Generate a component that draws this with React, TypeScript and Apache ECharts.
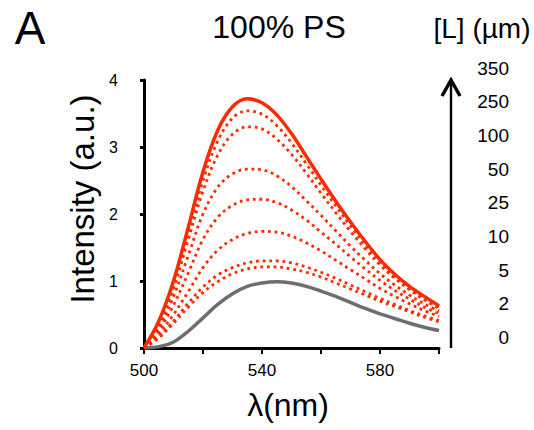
import React, { useEffect, useRef } from "react";
import * as echarts from "echarts";

// Wavelength grid (nm)
const wavelengths = [500, 505, 510, 515, 520, 525, 530, 535, 540, 545, 550, 555, 560, 565, 570, 575, 580, 585, 590, 595, 600];

// Intensity (a.u.) per ligand concentration [L] (µm)
const i0 = [0, 0.02, 0.09, 0.25, 0.45, 0.65, 0.81, 0.92, 0.97, 0.99, 0.97, 0.92, 0.85, 0.77, 0.68, 0.59, 0.51, 0.44, 0.37, 0.31, 0.26];
const i2 = [0, 0.15, 0.37, 0.61, 0.83, 0.99, 1.11, 1.18, 1.21, 1.21, 1.18, 1.13, 1.06, 0.97, 0.88, 0.79, 0.70, 0.62, 0.54, 0.46, 0.39];
const i5 = [0, 0.17, 0.40, 0.67, 0.91, 1.09, 1.20, 1.27, 1.30, 1.30, 1.27, 1.21, 1.13, 1.04, 0.94, 0.84, 0.74, 0.65, 0.56, 0.48, 0.41];
const i10 = [0, 0.21, 0.50, 0.84, 1.20, 1.46, 1.62, 1.71, 1.74, 1.73, 1.67, 1.57, 1.45, 1.31, 1.17, 1.03, 0.89, 0.77, 0.66, 0.56, 0.47];
const i25 = [0, 0.26, 0.64, 1.12, 1.62, 1.95, 2.13, 2.21, 2.22, 2.17, 2.06, 1.91, 1.73, 1.55, 1.36, 1.18, 1.01, 0.86, 0.73, 0.61, 0.51];
const i50 = [0, 0.30, 0.77, 1.38, 2.00, 2.40, 2.60, 2.67, 2.66, 2.57, 2.41, 2.20, 1.98, 1.75, 1.52, 1.31, 1.11, 0.94, 0.79, 0.66, 0.55];
const i100 = [0, 0.35, 0.89, 1.62, 2.34, 2.88, 3.19, 3.30, 3.27, 3.12, 2.89, 2.61, 2.31, 2.02, 1.74, 1.48, 1.24, 1.04, 0.87, 0.72, 0.59];
const i250 = [0, 0.38, 0.95, 1.72, 2.50, 3.09, 3.43, 3.54, 3.49, 3.32, 3.06, 2.75, 2.43, 2.12, 1.82, 1.54, 1.29, 1.07, 0.89, 0.74, 0.61];
const i350 = [0, 0.40, 1.00, 1.80, 2.63, 3.25, 3.60, 3.72, 3.66, 3.48, 3.20, 2.86, 2.52, 2.19, 1.88, 1.59, 1.32, 1.10, 0.92, 0.77, 0.63];

// Legend / concentration labels (top to bottom)
const concLabels = ["350", "250", "100", "50", "25", "10", "5", "2", "0"];
const xTickLabels = [500, 540, 580];
const yTicks = [0, 1, 2, 3, 4];

const FONT = "'Liberation Sans', Arial, Helvetica, sans-serif";
const RED = "#ff2a00";
const GRAY = "#6e6e6e";
const SMOOTH = 0.35;

export default function App() {
  const ref = useRef<HTMLDivElement>(null);

  useEffect(() => {
    if (!ref.current) return;
    const chart = echarts.init(ref.current, null, { renderer: "svg" });

    const toData = (arr: number[]) => wavelengths.map((w, i) => [w, arr[i]]);
    const dotted = [
      { name: "2", data: i2 },
      { name: "5", data: i5 },
      { name: "10", data: i10 },
      { name: "25", data: i25 },
      { name: "50", data: i50 },
      { name: "100", data: i100 },
      { name: "250", data: i250 },
    ];

    const series: any[] = [
      {
        name: "0",
        type: "line",
        data: toData(i0),
        smooth: SMOOTH,
        showSymbol: false,
        lineStyle: { color: GRAY, width: 3.5 },
        z: 2,
      },
      ...dotted.map((d) => ({
        name: d.name,
        type: "line",
        data: toData(d.data),
        smooth: SMOOTH,
        showSymbol: false,
        lineStyle: { color: RED, width: 2.8, type: [2.8, 3.8], cap: "butt" },
        z: 3,
      })),
      {
        name: "350",
        type: "line",
        data: toData(i350),
        smooth: SMOOTH,
        showSymbol: false,
        lineStyle: { color: RED, width: 3.5 },
        z: 4,
      },
    ];

    const legendTop = 68;
    const legendStep = 33.7;
    const legendTexts = concLabels.map((t, i) => ({
      type: "text",
      x: 509,
      y: legendTop + i * legendStep,
      style: {
        text: t,
        align: "right",
        verticalAlign: "middle",
        font: `19px ${FONT}`,
        fill: "#000",
      },
    }));

    chart.setOption({
      animation: false,
      grid: { left: 144, right: 95, top: 80, bottom: 82 },
      xAxis: {
        type: "value",
        min: 500,
        max: 600,
        interval: 20,
        axisLine: { show: true, lineStyle: { color: "#000", width: 3 } },
        axisTick: { show: true, length: 6, lineStyle: { color: "#000", width: 2 } },
        axisLabel: {
          margin: 14,
          fontSize: 17,
          fontFamily: FONT,
          color: "#000",
          formatter: (v: number) => (xTickLabels.includes(v) ? String(v) : ""),
        },
        splitLine: { show: false },
      },
      yAxis: {
        type: "value",
        min: 0,
        max: 4,
        interval: 1,
        axisLine: { show: true, lineStyle: { color: "#000", width: 3 } },
        axisTick: { show: true, length: 4, lineStyle: { color: "#000", width: 3 } },
        axisLabel: {
          margin: 26,
          fontSize: 16,
          fontFamily: FONT,
          color: "#000",
          formatter: (v: number) => (yTicks.includes(v) ? String(v) : ""),
        },
        splitLine: { show: false },
      },
      series,
      graphic: [
        {
          type: "text",
          x: 30,
          y: 28,
          style: { text: "A", align: "center", verticalAlign: "middle", font: `46px ${FONT}`, fill: "#000" },
        },
        {
          type: "text",
          x: 279,
          y: 27,
          style: { text: "100% PS", align: "center", verticalAlign: "middle", font: `32px ${FONT}`, fill: "#000" },
        },
        {
          type: "text",
          x: 482,
          y: 28,
          style: { text: "[L] (µm)", align: "center", verticalAlign: "middle", font: `28px ${FONT}`, fill: "#000" },
        },
        {
          type: "text",
          x: 82,
          y: 199,
          rotation: Math.PI / 2,
          style: { text: "Intensity (a.u.)", align: "center", verticalAlign: "middle", font: `33px ${FONT}`, fill: "#000" },
        },
        {
          type: "text",
          x: 288,
          y: 405,
          style: { text: "λ(nm)", align: "center", verticalAlign: "middle", font: `32px ${FONT}`, fill: "#000" },
        },
        {
          type: "line",
          shape: { x1: 451, y1: 348, x2: 451, y2: 81 },
          style: { stroke: "#000", lineWidth: 2.4 },
        },
        {
          type: "polyline",
          shape: { points: [[442, 96], [451, 80], [460, 96]] },
          style: { stroke: "#000", lineWidth: 3.5, fill: null, lineJoin: "miter" },
        },
        ...legendTexts,
      ],
    });

    return () => chart.dispose();
  }, []);

  return (
    <div
      ref={ref}
      style={{ position: "fixed", left: 0, top: 0, width: 534, height: 430, background: "#fff" }}
    />
  );
}
